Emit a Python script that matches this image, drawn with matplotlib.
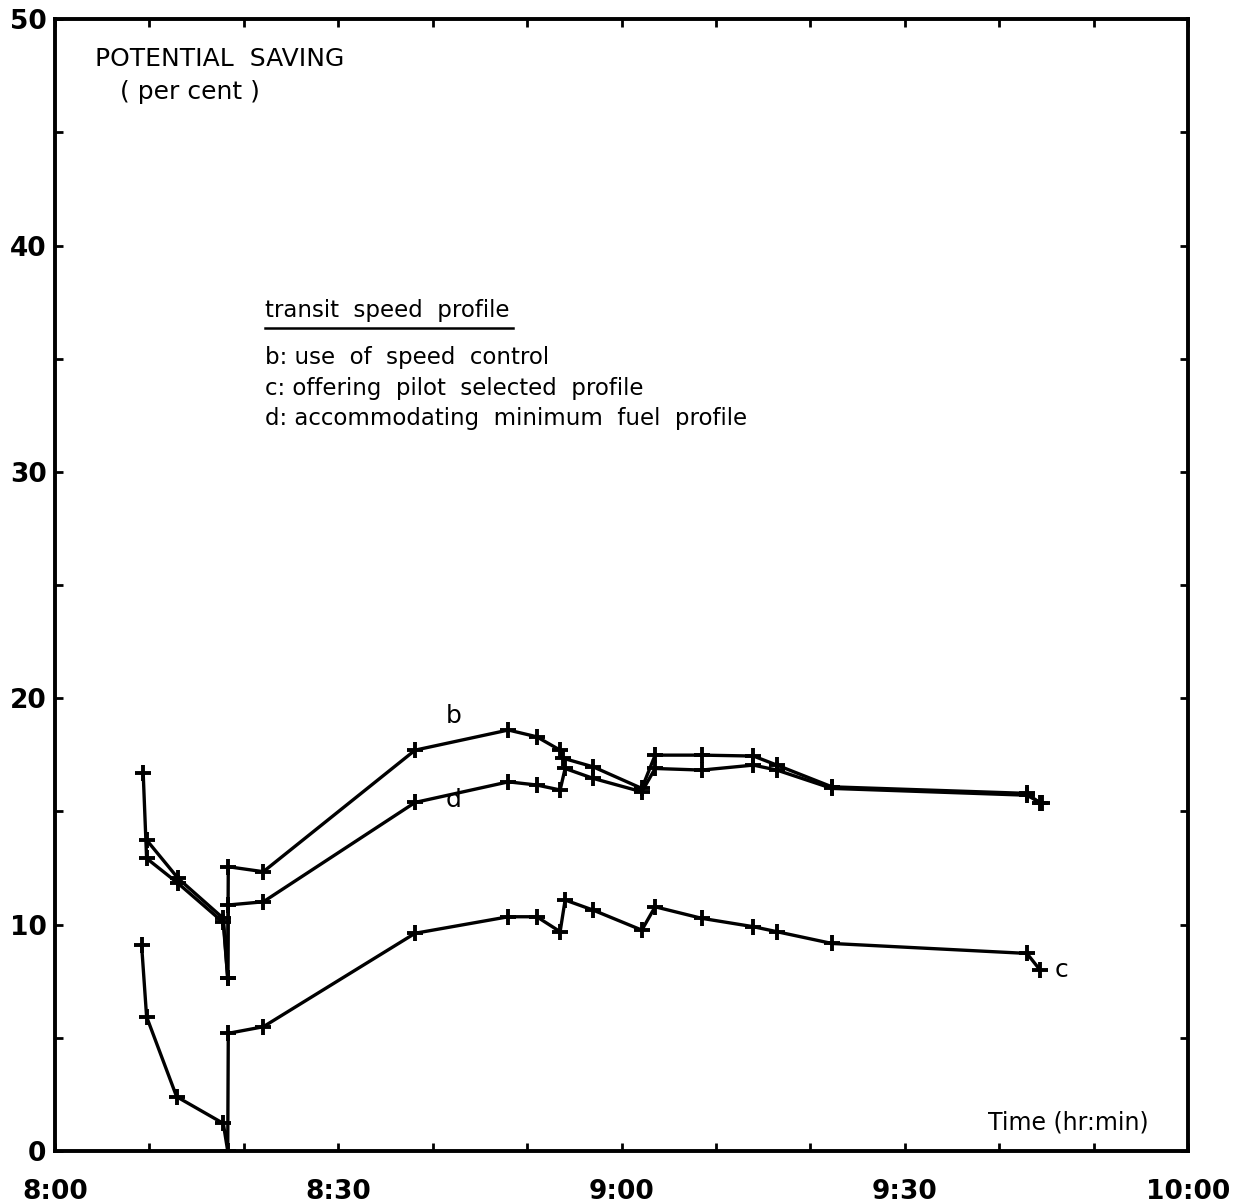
import matplotlib.pyplot as plt
import numpy as np

# minutes after 8:00 and potential saving (per cent)
b_time = [9.71, 13.06, 17.83, 18.30, 18.36, 22.07, 38.14, 48.02, 51.03, 53.50, 53.85,
          57.02, 62.15, 63.56, 68.50, 73.97, 76.45, 82.28, 102.93, 104.34]
b_save = [13.74, 12.04, 10.28, 7.63, 12.56, 12.34, 17.71, 18.60, 18.30, 17.71, 17.35,
          16.97, 16.02, 17.49, 17.49, 17.45, 17.05, 16.09, 15.80, 15.36]

d_time = [9.35, 9.71, 13.06, 17.83, 18.30, 18.36, 22.07, 38.14, 48.02, 51.03, 53.50,
          54.03, 57.02, 62.15, 63.56, 68.50, 73.97, 76.45, 82.28, 102.93, 104.50]
d_save = [16.68, 12.93, 11.82, 10.10, 7.63, 10.87, 11.01, 15.40, 16.31, 16.17, 15.95,
          16.90, 16.46, 15.87, 16.90, 16.83, 17.05, 16.83, 16.02, 15.72, 15.36]

c_time = [9.18, 9.71, 12.89, 17.83, 18.30, 18.36, 22.07, 38.14, 48.02, 51.03, 53.50,
          54.03, 57.02, 62.15, 63.56, 68.50, 73.97, 76.45, 82.28, 102.93, 104.34]
c_save = [9.10, 5.93, 2.40, 1.22, 0.0, 5.20, 5.49, 9.62, 10.35, 10.35, 9.69,
          11.09, 10.64, 9.76, 10.79, 10.28, 9.91, 9.69, 9.17, 8.73, 7.99]

x_ticks = np.arange(0, 121, 10)
x_labels = ['%d:%02d' % (8 + t // 60, t % 60) if t % 30 == 0 else '' for t in x_ticks]
y_ticks = np.arange(0, 51, 5)
y_labels = [str(v) if v % 10 == 0 else '' for v in y_ticks]

fig = plt.figure(figsize=(12.48, 12.04), dpi=100)
ax = fig.add_axes([0.044, 0.044, 0.908, 0.940])

for t, s in [(b_time, b_save), (d_time, d_save), (c_time, c_save)]:
    ax.plot(t, s, color='black', lw=2.4, marker='+', markersize=11, markeredgewidth=2.8)

ax.set_xlim(0, 120)
ax.set_ylim(0, 50)
ax.set_xticks(x_ticks)
ax.set_xticklabels(x_labels, fontsize=19, fontweight='bold')
ax.set_yticks(y_ticks)
ax.set_yticklabels(y_labels, fontsize=19, fontweight='bold')
ax.tick_params(direction='in', length=6, width=2, top=True, right=True)
ax.tick_params(axis='x', pad=20)
ax.tick_params(axis='y', pad=6)
for sp in ax.spines.values():
    sp.set_linewidth(2.8)

# titles and notes inside the frame
ax.text(0.035, 0.965, 'POTENTIAL  SAVING', transform=ax.transAxes, fontsize=18, va='center')
ax.text(0.057, 0.936, '( per cent )', transform=ax.transAxes, fontsize=18, va='center')

ax.text(0.185, 0.743, 'transit  speed  profile', transform=ax.transAxes, fontsize=16.5, va='center')
ax.plot([0.185, 0.404], [0.727, 0.727], transform=ax.transAxes, color='black', lw=1.8)
ax.text(0.185, 0.701, 'b: use  of  speed  control', transform=ax.transAxes,
        fontsize=16.5, va='center')
ax.text(0.185, 0.674, 'c: offering  pilot  selected  profile', transform=ax.transAxes,
        fontsize=16.5, va='center')
ax.text(0.185, 0.647, 'd: accommodating  minimum  fuel  profile', transform=ax.transAxes,
        fontsize=16.5, va='center')

ax.text(42.2, 19.2, 'b', fontsize=18, ha='center', va='center')
ax.text(42.2, 15.5, 'd', fontsize=18, ha='center', va='center')
ax.text(106.6, 8.0, 'c', fontsize=18, ha='center', va='center')
ax.text(107.3, 1.25, 'Time (hr:min)', fontsize=17, ha='center', va='center')

fig.savefig('out.png', dpi=100)
